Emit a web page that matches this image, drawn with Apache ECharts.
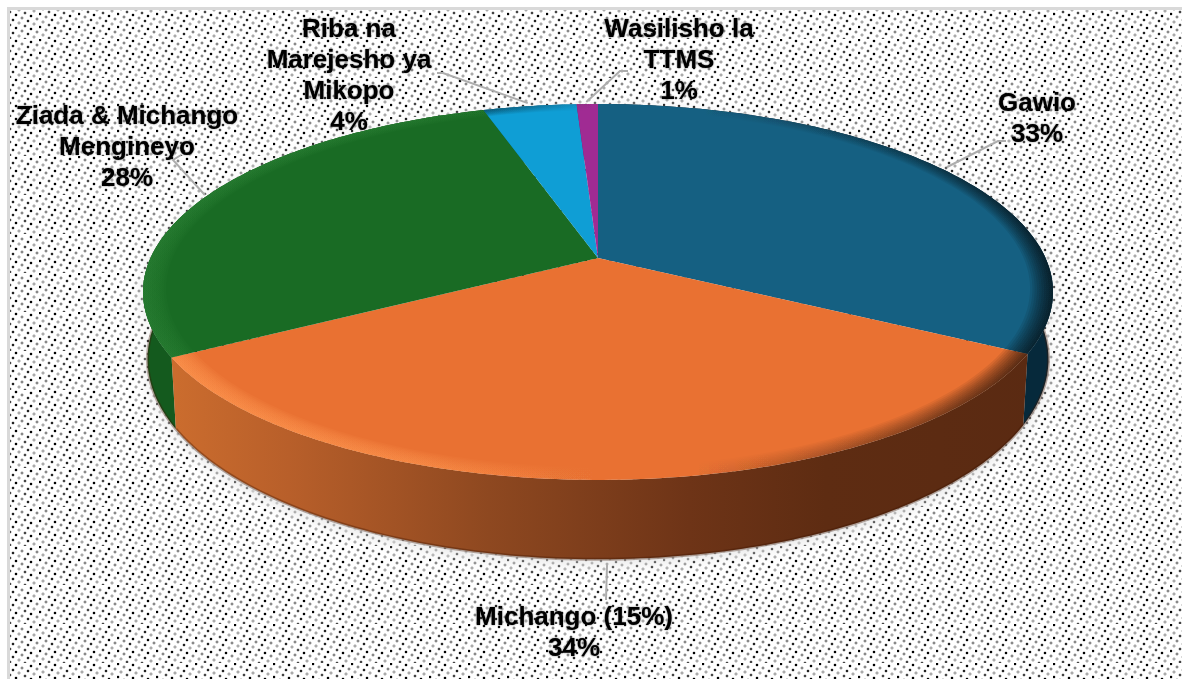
<!DOCTYPE html>
<html>
<head>
<meta charset="utf-8">
<style>
html, body { margin: 0; padding: 0; background: #fff; }
#main { width: 1182px; height: 679px; }
</style>
<script src="https://cdn.jsdelivr.net/npm/echarts@6/dist/echarts.min.js"></script>
</head>
<body>
<div id="main"></div>
<script>
var names = ['Gawio', 'Michango (15%)', 'Ziada & Michango\nMengineyo', 'Riba na\nMarejesho ya\nMikopo', 'Wasilisho la\nTTMS'];
var shares = [33.0, 33.7, 28.45, 3.95, 0.9];
var topColors = ['#156082', '#E97132', '#196B24', '#0F9ED5', '#A02B93'];
var wallColors = ['#06293B', null, '#145A1E', '#0B6E95', '#6F1E66'];
var rimLights = ['0,0,0', '255,150,80', '40,125,50', '0,0,0', '0,0,0'];

// label centre, leader knee, small shift of the leader tip
var labelCfg = [
	{ at: [1037, 119], knee: [998, 141], tip: [-4, -6] },
	{ at: [574, 633], knee: [606, 600], tip: [4, 4] },
	{ at: [127, 148], knee: [173, 160], tip: [-2, -1] },
	{ at: [349, 76], knee: [443, 73], tip: [-2, -3] },
	{ at: [679, 61], knee: [620, 71], tip: [-1, -2] }
];

// tilted disc: apex + perspective factor
var cx = 598, cy = 258, A = 447.5, B = 181.8, K = 0.1808, H = 65;
var total = shares.reduce(function (a, b) { return a + b; }, 0);

function project(deg, r, depth) {
	var t = deg * Math.PI / 180;
	var u = Math.sin(t) * r, v = -Math.cos(t) * r;
	var w = 1 - K * v;
	var sx = depth ? 0.99 : 1;
	return [cx + sx * A * u / w, cy + B * v / w + (depth ? H / w : 0)];
}

function arc(a0, a1, r, depth) {
	var pts = [], n = Math.max(2, Math.ceil(Math.abs(a1 - a0)));
	for (var i = 0; i <= n; i++) {
		pts.push(project(a0 + (a1 - a0) * i / n, r, depth));
	}
	return pts;
}

function hGrad(stops) {
	return { type: 'linear', x: 143, y: 0, x2: 1053, y2: 0, global: true, colorStops: stops };
}

var orangeWall = hGrad([
	{ offset: 0, color: '#D0702F' },
	{ offset: 0.16, color: '#B85F2A' },
	{ offset: 0.38, color: '#8E4820' },
	{ offset: 0.6, color: '#6E3417' },
	{ offset: 0.75, color: '#5E2C12' },
	{ offset: 1, color: '#5A2A12' }
]);

function rimGrad(light) {
	return hGrad([
		{ offset: 0, color: 'rgba(' + light + ',0.13)' },
		{ offset: 0.3, color: 'rgba(' + light + ',0.09)' },
		{ offset: 0.5, color: 'rgba(' + light + ',0)' },
		{ offset: 0.6, color: 'rgba(0,0,0,0)' },
		{ offset: 0.85, color: 'rgba(0,0,0,0.05)' },
		{ offset: 1, color: 'rgba(0,0,0,0.1)' }
	]);
}

function renderWedge(params, api) {
	var i = params.dataIndex;
	var before = shares.slice(0, i).reduce(function (a, b) { return a + b; }, 0);
	var a0 = before / total * 360;
	var a1 = a0 + api.value(0) / total * 360;
	var mid = (a0 + a1) / 2;
	var kids = [];

	var wall = arc(a0, a1, 1, false).concat(arc(a1, a0, 1, true));
	kids.push({
		type: 'polygon', z2: 0, shape: { points: wall },
		style: { fill: '#ccc', shadowBlur: 14, shadowColor: 'rgba(228,228,228,0.95)', shadowOffsetY: 4 }
	});
	kids.push({
		type: 'polygon', z2: i === 1 ? 3 : 1, shape: { points: wall },
		style: { fill: wallColors[i] || orangeWall }
	});
	// darker foot of the wall
	kids.push({
		type: 'polyline', z2: i === 1 ? 4 : 2, shape: { points: arc(a0, a1, 1, true) },
		style: { stroke: 'rgba(60,20,0,0.35)', lineWidth: 3, fill: null }
	});
	kids.push({
		type: 'polygon', z2: 10,
		shape: { points: [[cx, cy]].concat(arc(a0, a1, 1, false)) },
		style: { fill: topColors[i] }
	});
	// bevel along the outer edge, stacked thin rings
	for (var r = 0.996; r > 0.95; r -= 0.005) {
		kids.push({
			type: 'polygon', z2: 11,
			shape: { points: arc(a0, a1, 1, false).concat(arc(a1, a0, r, false)) },
			style: { fill: rimGrad(rimLights[i]) }
		});
	}

	var cfg = labelCfg[i];
	var tip = project(mid, 1, i === 1);
	kids.push({
		type: 'polyline', z2: 12,
		shape: { points: [[tip[0] + cfg.tip[0], tip[1] + cfg.tip[1]], cfg.knee].concat(i === 1 ? [] : [[cfg.knee[0] + (i === 3 ? -6 : 8), cfg.knee[1] + (i === 2 ? -5 : 0)]]) },
		style: { stroke: '#adadad', lineWidth: 2, fill: null }
	});
	kids.push({
		type: 'text', z2: 13, x: cfg.at[0], y: cfg.at[1],
		style: {
			text: names[i] + '\n' + Math.round(api.value(0)) + '%',
			x: 0, y: 0, align: 'center', verticalAlign: 'middle',
			font: 'bold 26px "Liberation Sans", Arial, sans-serif', lineHeight: 31,
			fill: '#000', textShadowColor: 'rgba(60,60,60,0.7)', textShadowBlur: 2
		}
	});
	return { type: 'group', children: kids };
}

// dotted fill of the plot panel
function dotTile() {
	var c = document.createElement('canvas');
	c.width = 39; c.height = 39;
	var g = c.getContext('2d');
	g.fillStyle = '#fff';
	g.fillRect(0, 0, 39, 39);
	var shades = ['#000', '#888', '#222', '#aaa', '#444'];
	for (var a = -15; a < 30; a++) {
		for (var b = -15; b < 30; b++) {
			var x = a * 6 - b * 3, y = a * 3 + b * 5;
			if (x < 0 || x >= 39 || y < 0 || y >= 39) continue;
			g.fillStyle = 'rgba(150,150,150,0.35)';
			g.fillRect(x - 1, y, 4, 2);
			g.fillRect(x, y - 1, 2, 4);
			g.fillStyle = shades[((a + 2 * b) % 5 + 5) % 5];
			g.fillRect(x, y, 2, 2);
		}
	}
	return c;
}

var myChart = echarts.init(document.getElementById('main'));
myChart.setOption({
	animation: false,
	backgroundColor: '#fff',
	graphic: [
		{ type: 'rect', silent: true, z: 0, shape: { x: 9, y: 10, width: 1173, height: 669 }, style: { fill: { image: dotTile(), repeat: 'repeat' } } },
		{ type: 'rect', silent: true, z: 1, shape: { x: 7, y: 7, width: 1175, height: 3 }, style: { fill: '#d9d9d9' } },
		{ type: 'rect', silent: true, z: 1, shape: { x: 7, y: 7, width: 3, height: 672 }, style: { fill: '#d9d9d9' } }
	],
	series: [{
		type: 'custom',
		coordinateSystem: 'none',
		silent: true,
		renderItem: renderWedge,
		data: shares.map(function (v) { return [v]; })
	}]
});
</script>
</body>
</html>
